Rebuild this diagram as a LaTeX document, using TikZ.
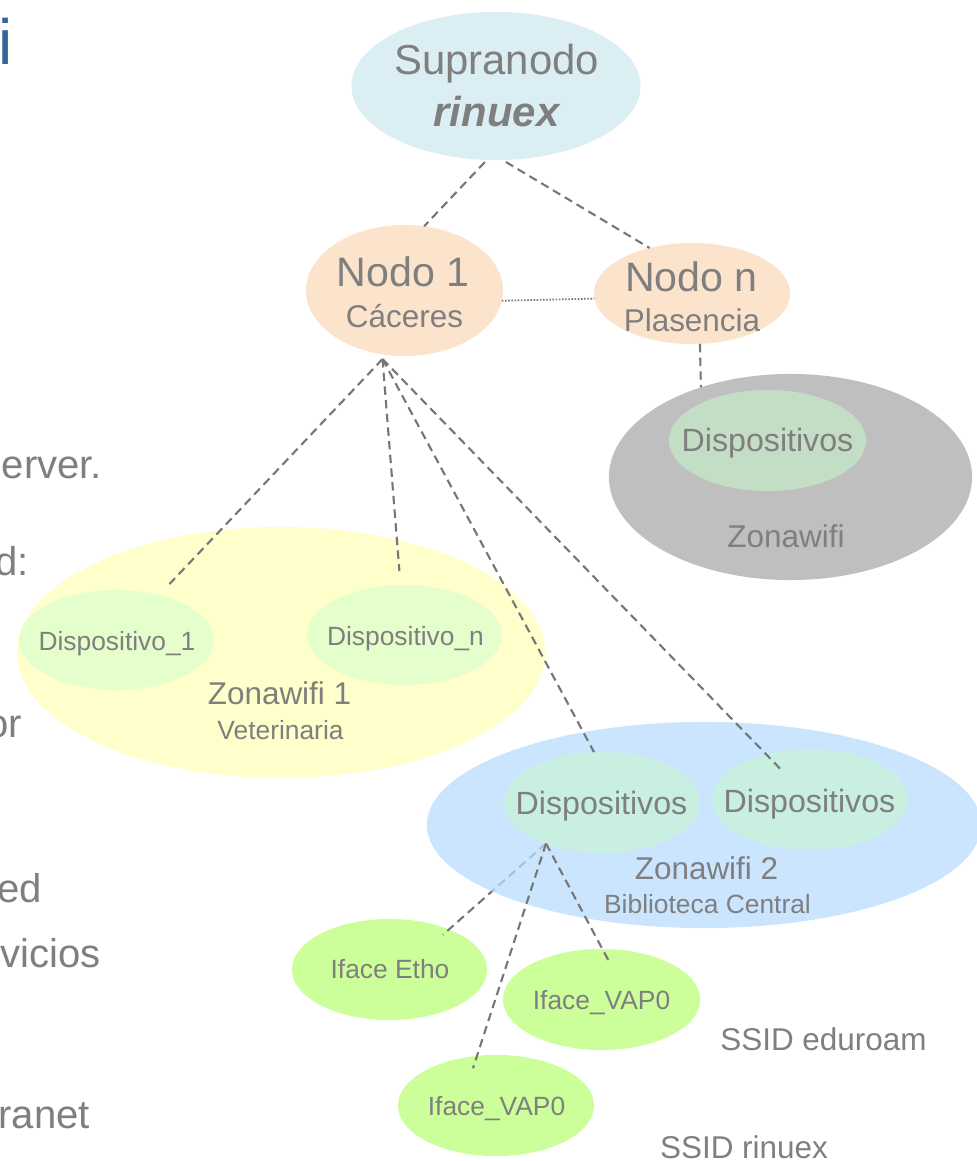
\documentclass[tikz,border=0pt]{standalone}
\usepackage{fontspec}
\setmainfont{Liberation Sans}
\usetikzlibrary{shapes.geometric,calc}
\definecolor{txtgray}{RGB}{127,127,127}
\definecolor{linegray}{RGB}{118,118,118}
\definecolor{supfill}{RGB}{219,238,243}
\definecolor{nodefill}{RGB}{252,228,204}
\definecolor{zonegray}{RGB}{191,191,191}
\definecolor{devgray}{RGB}{196,221,197}
\definecolor{zoneyellow}{RGB}{255,255,204}
\definecolor{devyellow}{RGB}{229,255,204}
\definecolor{zoneblue}{RGB}{187,220,255}
\definecolor{devblue}{RGB}{201,239,225}
\definecolor{ifacefill}{RGB}{204,255,153}
\definecolor{titleblue}{RGB}{51,102,153}
\newcommand\fszXL{\fontsize{18.2}{22}\selectfont}
\newcommand\fszL{\fontsize{11.9}{14}\selectfont}
\newcommand\fszN{\fontsize{11.7}{14}\selectfont}
\newcommand\fszLeft{\fontsize{11.4}{14}\selectfont}
\newcommand\fszM{\fontsize{8.95}{11}\selectfont}
\newcommand\fszD{\fontsize{9.15}{11}\selectfont}
\newcommand\fszS{\fontsize{7.5}{9}\selectfont}
\tikzset{
  ell/.style={ellipse, draw=none, inner sep=0pt, outer sep=0pt},
  conn/.style={draw=linegray, line width=0.6pt, dash pattern=on 2.4pt off 1.5pt},
  dotline/.style={draw=linegray, line width=0.5pt, dash pattern=on 0.45pt off 0.45pt},
  lbl/.style={text=txtgray, inner sep=0pt, outer sep=0pt, anchor=base},
  lefttxt/.style={text=txtgray, inner sep=0pt, outer sep=0pt, anchor=base east, font=\fszLeft},
}
\begin{document}
\begin{tikzpicture}[x=0.01cm, y=-0.01cm]
\useasboundingbox (0,0) rectangle (977,1161);

% title fragment and cut-off slide text
\node[text=titleblue, inner sep=0pt, anchor=base east, font=\fszXL] (title) at (13,65) {f\kern0pt i};
\node[lefttxt] (l1) at (102,478) {erver.};
\node[lefttxt] (l2) at (29,575) {d:};
\node[lefttxt] (l3) at (22,737) {or};
\node[lefttxt] (l4) at (42,902) {ed};
\node[lefttxt] (l5) at (101,967) {vicios};
\node[lefttxt] (l6) at (90,1128) {ranet};

% Zonawifi 1
\node[ell, fill=zoneyellow, minimum width=5.28cm, minimum height=2.51cm] (z1) at (281,652.5) {};
\node[ell, fill=devyellow, minimum width=1.95cm, minimum height=1.00cm] (d1) at (116.5,640) {};
\node[ell, fill=devyellow, minimum width=1.95cm, minimum height=1.00cm] (dn) at (404.5,635) {};

% Plasencia zone
\node[ell, fill=zonegray, minimum width=3.63cm, minimum height=2.06cm] (gz) at (790.5,477) {};
\node[ell, fill=devgray, minimum width=1.97cm, minimum height=1.01cm] (gd) at (767.5,440.5) {};

% interfaces
\node[ell, fill=ifacefill, minimum width=1.95cm, minimum height=1.01cm] (ie) at (389.5,969.5) {};
\node[ell, fill=ifacefill, minimum width=1.97cm, minimum height=1.01cm] (iv1) at (601.5,999.5) {};
\node[ell, fill=ifacefill, minimum width=1.96cm, minimum height=1.01cm] (iv2) at (496,1105.5) {};

% link to Iface Etho (seen through the zone)
\coordinate (hub2) at (546,843.5);
\draw[conn, shorten >=-0.08cm] (hub2) -- (ie.34);

% Zonawifi 2
\node[ell, fill=zoneblue, fill opacity=0.75, minimum width=5.54cm, minimum height=2.06cm] (z2) at (704,825) {};
\node[ell, fill=devblue, minimum width=1.96cm, minimum height=1.01cm] (z2a) at (602,802.5) {};
\node[ell, fill=devblue, minimum width=1.96cm, minimum height=1.01cm] (z2b) at (810,799.5) {};

% top nodes
\node[ell, fill=supfill, minimum width=2.89cm, minimum height=1.48cm] (sup) at (496,86) {};
\node[ell, fill=nodefill, minimum width=1.97cm, minimum height=1.31cm] (n1) at (404.5,290.5) {};
\node[ell, fill=nodefill, minimum width=1.96cm, minimum height=1.01cm] (nn) at (692,293.5) {};

% connectors
\draw[conn, shorten <=0.03cm] (sup.263) -- (n1.73);
\draw[conn, shorten <=0.04cm] (sup.275) -- (nn.133);
\draw[dotline] (n1.354) -- (nn.183);
\draw[conn] (nn.279) -- (gz.135);
\coordinate (hub1) at ($(n1.south)+(-22,3)$);
\draw[conn, shorten >=0.77cm] (hub1) -- (d1.center);
\draw[conn, shorten >=0.64cm] (hub1) -- (dn.center);
\draw[conn] (hub1) -- (z2a.99);
\draw[conn, shorten >=0.38cm] (hub1) -- (z2b.center);
\draw[conn, shorten >=-0.15cm] (hub2) -- (iv1.89);
\draw[conn, shorten >=-0.13cm] (hub2) -- (iv2.111);

% texts
\node[lbl, font=\fszL] (tsup) at (496.5,75) {Supranodo};
\node[lbl, font=\fszL\bfseries\itshape] (trin) at (496.5,127) {rinuex};
\node[lbl, font=\fszN] (tn1) at (403,287) {Nodo 1};
\node[lbl, font=\fszM] (tcac) at (404.5,328) {Cáceres};
\node[lbl, font=\fszN] (tnn) at (691.5,292) {Nodo n};
\node[lbl, font=\fszM] (tpla) at (692,332) {Plasencia};
\node[lbl, font=\fszD] (tgd) at (767.5,451) {Dispositivos};
\node[lbl, font=\fszM] (tgz) at (786,547) {Zonawifi};
\node[lbl, font=\fszS] (td1) at (117,650) {Dispositivo\_1};
\node[lbl, font=\fszS] (tdn) at (405.5,645) {Dispositivo\_n};
\node[lbl, font=\fszM] (tz1) at (279.5,704) {Zonawifi 1};
\node[lbl, font=\fszS] (tvet) at (280.5,739) {Veterinaria};
\node[lbl, font=\fszD] (tz2a) at (601.5,814) {Dispositivos};
\node[lbl, font=\fszD] (tz2b) at (809.5,812) {Dispositivos};
\node[lbl, font=\fszM] (tz2) at (706.5,879) {Zonawifi 2};
\node[lbl, font=\fszS] (tbib) at (707.5,913) {Biblioteca Central};
\node[lbl, font=\fszS] (tie) at (390,978) {Iface Etho};
\node[lbl, font=\fszS] (tiv1) at (601.5,1009) {Iface\_VAP0};
\node[lbl, font=\fszS] (tiv2) at (496.5,1115) {Iface\_VAP0};
\node[lbl, font=\fszM] (tedu) at (823.5,1050) {SSID eduroam};
\node[lbl, font=\fszM] (trinx) at (744,1158) {SSID rinuex};
\end{tikzpicture}
\end{document}
